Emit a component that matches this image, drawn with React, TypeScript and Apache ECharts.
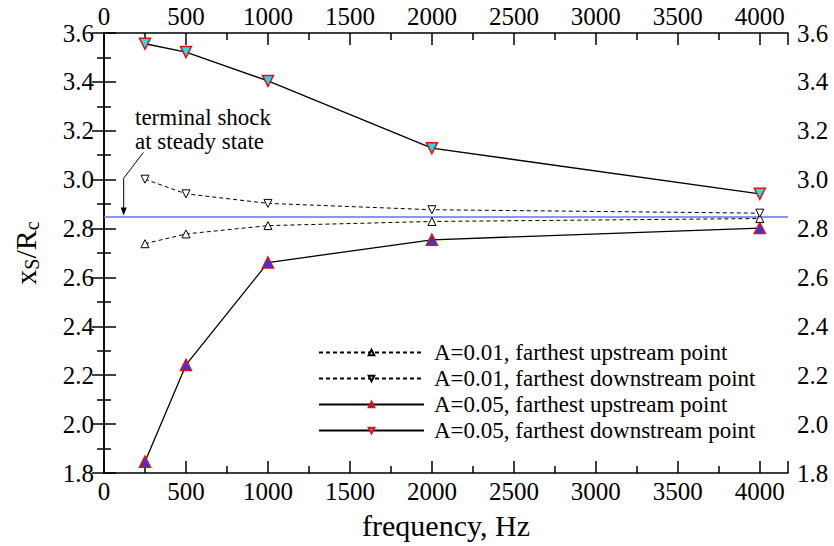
import React, { useEffect, useRef } from "react";
import * as echarts from "echarts";

const freq = [250, 500, 1000, 2000, 4000];
const upA001 = [2.738, 2.778, 2.812, 2.829, 2.841];
const downA001 = [3.002, 2.942, 2.903, 2.877, 2.863];
const upA005 = [1.846, 2.242, 2.661, 2.754, 2.802];
const downA005 = [3.556, 3.522, 3.404, 3.129, 2.942];
const steadyState = 2.853;
const seriesNames = [
  "A=0.01, farthest upstream point",
  "A=0.01, farthest downstream point",
  "A=0.05, farthest upstream point",
  "A=0.05, farthest downstream point",
];
const annotationLines = ["terminal shock", "at steady state"];

const FONT = "Liberation Serif";

export default function App() {
  const ref = useRef<HTMLDivElement>(null);
  useEffect(() => {
    if (!ref.current) return;
    const chart = echarts.init(ref.current, null, { renderer: "svg" });
    const pair = (ys: number[]) => freq.map((f, i) => [f, ys[i]]);
    const xCommon = {
      type: "value",
      min: 0,
      max: 4172,
      interval: 500,
      axisLine: { show: true, lineStyle: { color: "#000", width: 1.5 } },
      axisTick: { show: true, inside: true, length: 12, lineStyle: { color: "#000", width: 1.5 } },
      minorTick: { show: true, splitNumber: 2, length: 7, lineStyle: { color: "#000", width: 1.5 } },
      splitLine: { show: false },
      axisLabel: {
        fontFamily: FONT,
        fontSize: 25,
        color: "#000",
        showMaxLabel: false,
        formatter: (v: number) => String(v),
      },
    };
    const yCommon = {
      type: "value",
      min: 1.8,
      max: 3.6,
      interval: 0.2,
      axisLine: { show: true, lineStyle: { color: "#000", width: 1.5 } },
      axisTick: { show: true, inside: true, length: 12, lineStyle: { color: "#000", width: 1.5 } },
      minorTick: { show: true, splitNumber: 2, length: 7, lineStyle: { color: "#000", width: 1.5 } },
      splitLine: { show: false },
      axisLabel: {
        fontFamily: FONT,
        fontSize: 25,
        color: "#000",
        formatter: (v: number) => v.toFixed(1),
      },
    };
    const smallSym = {
      symbol: "triangle",
      symbolSize: 8,
      itemStyle: { color: "#fff", borderColor: "#000", borderWidth: 1 },
    };
    const bigUp = {
      symbol: "triangle",
      symbolSize: 11,
      itemStyle: { color: "#3a32e6", borderColor: "#e01010", borderWidth: 1.5 },
    };
    const bigDown = {
      symbol: "triangle",
      symbolSize: 11,
      symbolRotate: 180,
      itemStyle: { color: "#1ee0e6", borderColor: "#e01010", borderWidth: 1.5 },
    };
    const option: any = {
      animation: false,
      title: {
        text: annotationLines.join("\n"),
        left: 135,
        top: 105,
        padding: 0,
        textStyle: {
          fontFamily: FONT,
          fontSize: 23,
          fontWeight: "normal",
          lineHeight: 24,
          color: "#000",
        },
      },
      grid: { left: 104, right: 46, top: 33, bottom: 73, containLabel: false },
      xAxis: [
        {
          ...xCommon,
          position: "bottom",
          name: "frequency, Hz",
          nameLocation: "middle",
          nameGap: 37,
          nameTextStyle: { fontFamily: FONT, fontSize: 30, color: "#000" },
          axisLabel: { ...xCommon.axisLabel, margin: 6 },
        },
        {
          ...xCommon,
          position: "top",
          axisLabel: { ...xCommon.axisLabel, margin: 4 },
        },
      ],
      yAxis: [
        {
          ...yCommon,
          position: "left",
          name: "{a|x}{b|S}{a|/R}{b|c}",
          nameLocation: "middle",
          nameGap: 62,
          nameRotate: 90,
          nameTextStyle: {
            color: "#000",
            fontFamily: FONT,
            rich: {
              a: { fontFamily: FONT, fontSize: 30, lineHeight: 34, color: "#000" },
              b: { fontFamily: FONT, fontSize: 20, lineHeight: 20, verticalAlign: "bottom", color: "#000" },
            },
          },
          axisLabel: { ...yCommon.axisLabel, margin: 10 },
        },
        {
          ...yCommon,
          position: "right",
          axisLabel: { ...yCommon.axisLabel, margin: 9 },
        },
      ],
      legend: {
        orient: "vertical",
        left: 313,
        top: 336,
        itemWidth: 105,
        itemHeight: 7,
        itemGap: 3,
        data: seriesNames,
        textStyle: {
          fontFamily: FONT,
          fontSize: 23,
          lineHeight: 22,
          color: "#000",
          padding: [0, 0, 0, 5],
        },
      },
      series: [
        {
          name: seriesNames[0],
          type: "line",
          data: pair(upA001),
          ...smallSym,
          lineStyle: { color: "#000", width: 1, type: [4, 3] },
          z: 3,
        },
        {
          name: seriesNames[1],
          type: "line",
          data: pair(downA001),
          ...smallSym,
          symbolRotate: 180,
          lineStyle: { color: "#000", width: 1, type: [4, 3] },
          z: 3,
        },
        {
          name: seriesNames[2],
          type: "line",
          data: pair(upA005),
          ...bigUp,
          lineStyle: { color: "#000", width: 1.3 },
          z: 4,
        },
        {
          name: seriesNames[3],
          type: "line",
          data: pair(downA005),
          ...bigDown,
          lineStyle: { color: "#000", width: 1.3 },
          z: 4,
          markLine: {
            silent: true,
            symbol: ["none", "none"],
            label: { show: false },
            lineStyle: { color: "#6b6bff", width: 1.5, type: "solid" },
            data: [{ yAxis: steadyState }],
            z: 2,
          },
        },
      ],
    };
    chart.setOption(option);

    const tip = chart.convertToPixel({ gridIndex: 0 }, [120, steadyState]) as number[];
    const elbow = chart.convertToPixel({ gridIndex: 0 }, [120, 3.006]) as number[];
    const start = chart.convertToPixel({ gridIndex: 0 }, [240, 3.111]) as number[];
    chart.setOption({
      graphic: [
        {
          type: "polyline",
          shape: { points: [start, elbow, [tip[0], tip[1] - 7]] },
          style: { stroke: "#000", lineWidth: 1, fill: null },
          z: 10,
        },
        {
          type: "polygon",
          shape: {
            points: [
              [tip[0] - 3, tip[1] - 8],
              [tip[0] + 3, tip[1] - 8],
              [tip[0], tip[1]],
            ],
          },
          style: { fill: "#000" },
          z: 10,
        },
      ],
    });
    return () => chart.dispose();
  }, []);
  return <div ref={ref} style={{ width: 834, height: 546, position: "absolute", left: 0, top: 0, background: "#fff" }} />;
}
